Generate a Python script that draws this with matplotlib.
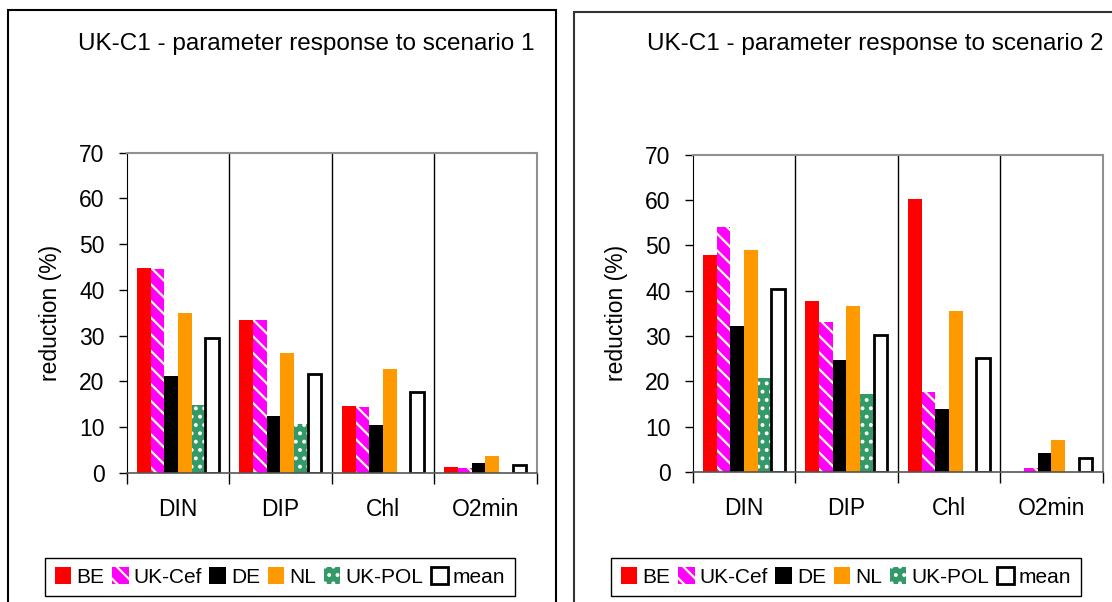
import matplotlib.pyplot as plt
import matplotlib.patches as mpatches
import numpy as np

plt.rcParams['font.family'] = ['Liberation Sans', 'DejaVu Sans']
plt.rcParams['hatch.linewidth'] = 1.6

categories = ["DIN", "DIP", "Chl", "O2min"]
series = ["BE", "UK-Cef", "DE", "NL", "UK-POL", "mean"]

# reduction (%) per series, scenario 1 and scenario 2
scen1 = {
    "BE":     [44.8, 33.5, 14.5, 1.25],
    "UK-Cef": [44.5, 33.3, 14.3, 1.0],
    "DE":     [21.2, 12.5, 10.5, 2.2],
    "NL":     [34.9, 26.2, 22.7, 3.65],
    "UK-POL": [14.8, 10.6, 0.0, 0.0],
    "mean":   [29.4, 21.6, 17.7, 1.6],
}
scen2 = {
    "BE":     [47.9, 37.6, 60.2, 0.0],
    "UK-Cef": [54.1, 33.0, 17.6, 0.8],
    "DE":     [32.1, 24.7, 13.9, 4.1],
    "NL":     [48.9, 36.6, 35.6, 7.0],
    "UK-POL": [20.8, 17.3, 0.0, 0.0],
    "mean":   [40.4, 30.1, 25.2, 3.0],
}

styles = {
    "BE":     dict(facecolor="#FF0000", edgecolor="#FF0000", linewidth=0),
    "UK-Cef": dict(facecolor="#FF00FF", edgecolor="#FFFFCC", linewidth=0, hatch="\\\\"),
    "DE":     dict(facecolor="#000000", edgecolor="#000000", linewidth=0),
    "NL":     dict(facecolor="#FF9900", edgecolor="#FF9900", linewidth=0),
    "UK-POL": dict(facecolor="#339966", edgecolor="#FFFFFF", linewidth=0, hatch=".."),
    "mean":   dict(facecolor="#FFFFFF", edgecolor="#000000", linewidth=2),
}

W, H = 1112, 602
fig = plt.figure(figsize=(W / 100, H / 100), dpi=100)

# outer chart frames
fig.patches.append(mpatches.Rectangle((7.5 / W, -0.1), (556 - 7.5) / W, 1.1 - 10 / H,
                                      transform=fig.transFigure, fill=False,
                                      edgecolor="black", linewidth=1.5))
fig.patches.append(mpatches.Rectangle((573.5 / W, -0.1), 0.6, 1.1 - 12 / H,
                                      transform=fig.transFigure, fill=False,
                                      edgecolor="#333333", linewidth=1.5))


def draw_panel(rect, data, title, title_x, legend_x):
    ax = fig.add_axes(rect)
    x = np.arange(len(categories))
    n = len(series)
    w = 0.8 / n
    for i, s in enumerate(series):
        ax.bar(x - 0.4 + w * (i + 0.5), data[s], width=w, label=s, **styles[s])
    ax.set_xlim(-0.5, 3.5)
    ax.set_ylim(0, 70)
    ax.set_yticks(range(0, 71, 10))
    ax.set_xticks(np.arange(-0.5, 3.6, 1.0))
    ax.set_xticklabels([])
    ax.set_xticks(x, minor=True)
    ax.set_xticklabels(categories, minor=True)
    ax.tick_params(axis="x", which="major", length=8, direction="out", width=1)
    ax.tick_params(axis="x", which="minor", length=0, pad=18, labelsize=16.5)
    ax.tick_params(axis="y", length=6, direction="out", width=1, labelsize=16.5, pad=10)
    for xs in [0.5, 1.5, 2.5]:
        ax.axvline(xs, color="black", linewidth=1, zorder=0)
    for sp in ["top", "right"]:
        ax.spines[sp].set_color("#909090")
        ax.spines[sp].set_linewidth(1.5)
    ax.spines["bottom"].set_color("#555555")
    ax.spines["bottom"].set_linewidth(1.2)
    ax.spines["left"].set_color("black")
    ax.set_ylabel("reduction (%)", fontsize=16.5, labelpad=12)
    fig.text(title_x, 1 - 44 / H, title, fontsize=17.5, ha="center", va="center")
    leg = ax.legend(loc="center", bbox_to_anchor=(legend_x, 1 - 577 / H),
                    bbox_transform=fig.transFigure, ncol=6, fontsize=15,
                    handlelength=0.8, handleheight=0.9, handletextpad=0.25,
                    columnspacing=0.35, borderpad=0.45, fancybox=False,
                    edgecolor="black", framealpha=1)
    leg.get_frame().set_linewidth(1)
    return ax


draw_panel([126.7 / W, 1 - 472.7 / H, 410 / W, 320 / H], scen1,
           "UK-C1 - parameter response to scenario 1", 306 / W, 280 / W)
draw_panel([692.7 / W, 1 - 472 / H, 410 / W, 317.5 / H], scen2,
           "UK-C1 - parameter response to scenario 2", 875 / W, 846 / W)

fig.savefig("out.png", dpi=100)
